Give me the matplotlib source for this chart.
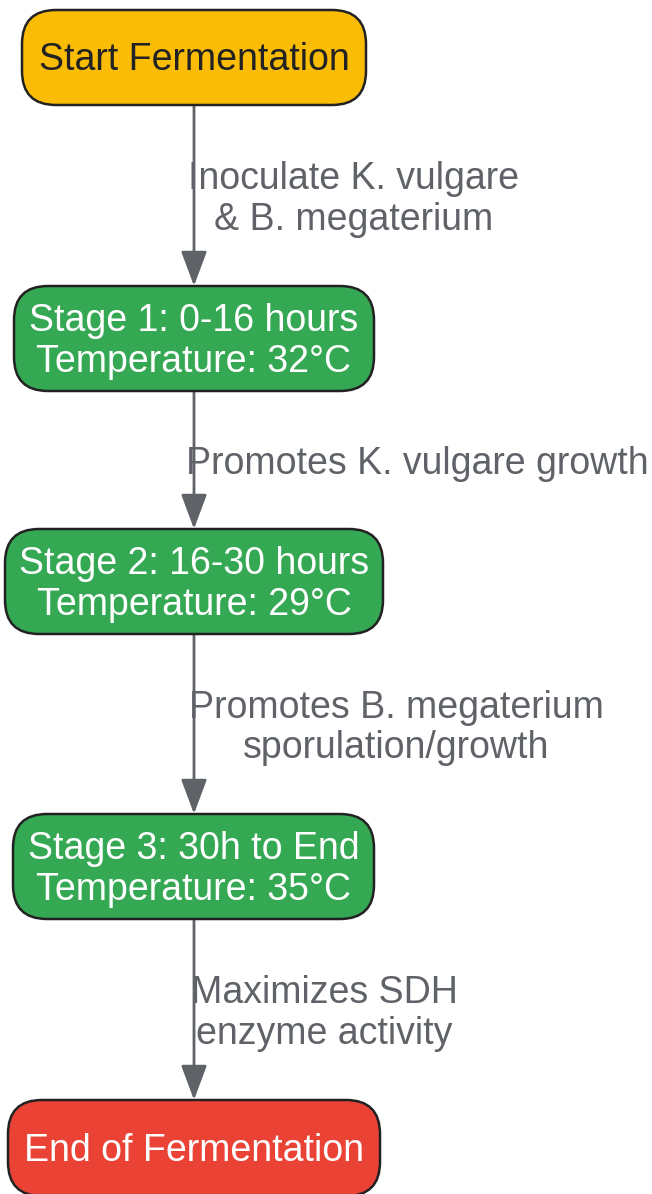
import matplotlib.pyplot as plt
from matplotlib.patches import FancyBboxPatch, FancyArrowPatch

plt.rcParams['font.family'] = ['Liberation Sans', 'DejaVu Sans']

# node content
node_labels = ['Start Fermentation',
               'Stage 1: 0-16 hours\nTemperature: 32°C',
               'Stage 2: 16-30 hours\nTemperature: 29°C',
               'Stage 3: 30h to End\nTemperature: 35°C',
               'End of Fermentation']
node_colors = ['#FBBC05', '#34A853', '#34A853', '#34A853', '#EA4335']
node_text_colors = ['#222222', 'white', 'white', 'white', 'white']

edge_labels = ['Inoculate K. vulgare\n& B. megaterium',
               'Promotes K. vulgare growth',
               'Promotes B. megaterium\nsporulation/growth',
               'Maximizes SDH\nenzyme activity']

# layout in pixels (x0, x1, y0, y1)
boxes = [(22, 366, 10, 105),
         (14, 374, 286, 391),
         (5, 383, 529, 634),
         (13, 374, 814, 919),
         (8, 380, 1100, 1196)]
label_x = [354, 417, 396, 324]
cx = 194

fig = plt.figure(figsize=(6.52, 11.94), dpi=100)
ax = fig.add_axes([0, 0, 1, 1])
ax.set_xlim(0, 652)
ax.set_ylim(1194, 0)
ax.axis('off')

r = 34
for (x0, x1, y0, y1), lab, fc, tc in zip(boxes, node_labels, node_colors, node_text_colors):
    p = FancyBboxPatch((x0 + r, y0 + r), (x1 - x0) - 2 * r, (y1 - y0) - 2 * r,
                       boxstyle='round,pad=%d' % r, fc=fc, ec='#222222', lw=1.8, zorder=3)
    ax.add_patch(p)
    ax.text((x0 + x1) / 2, (y0 + y1) / 2 + 3, lab, ha='center', va='center',
            fontsize=27, color=tc, linespacing=1.17, zorder=4)

for i, lab in enumerate(edge_labels):
    ya = boxes[i][3]
    yb = boxes[i + 1][2]
    arr = FancyArrowPatch((cx, ya), (cx, yb), arrowstyle='-|>,head_length=2.15,head_width=0.8',
                          color='#5F6368', lw=2, shrinkA=0, shrinkB=0, mutation_scale=10, zorder=2)
    ax.add_patch(arr)
    ax.text(label_x[i], (ya + yb) / 2 + 4, lab, ha='center', va='center',
            fontsize=27, color='#5F6368', linespacing=1.17, zorder=1)

fig.savefig('out.png', dpi=100)
